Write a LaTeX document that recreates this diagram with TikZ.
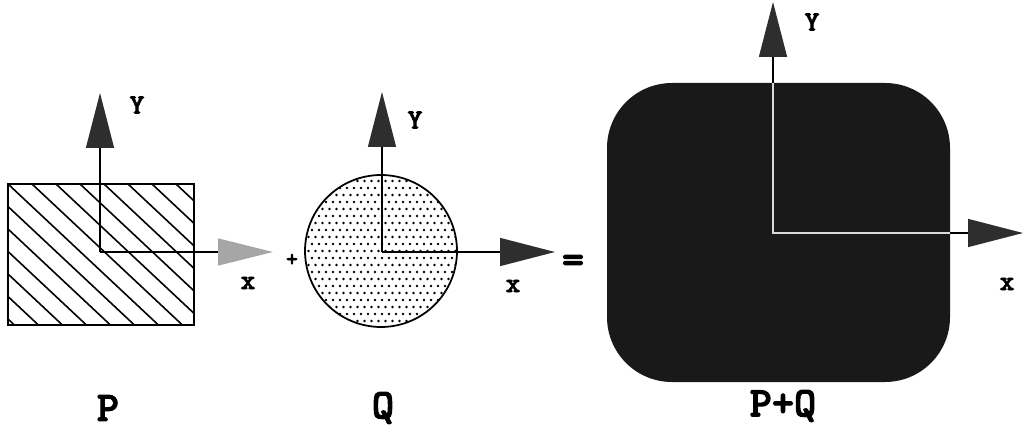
\documentclass[tikz,border=0pt]{standalone}
\usepackage{fontspec}
\newfontfamily\codefont{lmmonolt10-bold.otf}[FakeBold=2.5]
\usetikzlibrary{arrows.meta}
\begin{document}
\begin{tikzpicture}[x=0.02cm,y=-0.02cm,
  ax/.style={line width=0.8pt,-{Triangle[length=11mm,width=5.6mm,color=black!82]}},
  axlight/.style={line width=0.8pt,-{Triangle[length=11mm,width=5.4mm,color=black!35]}},
  lbl/.style={font=\codefont\fontsize{16}{16}\selectfont,inner sep=0pt},
  setname/.style={font=\codefont\fontsize{24}{24}\selectfont,inner sep=0pt}]
  \useasboundingbox (0,0) rectangle (1024,429);
  % P: hatched rectangle
  \coordinate (oP) at (100,252);
  \coordinate (yP) at (100,93);
  \coordinate (xP) at (273,252);
  \fill[white] (8,184) rectangle (194,325);
  \begin{scope}
    \clip (8,184) rectangle (194,325);
    \foreach \k in {-7,...,8}
      \draw[line width=0.9pt] (8+\k*24,184) -- ++(160,150);
  \end{scope}
  \draw[line width=1.1pt] (8,184) rectangle (194,325);
  \draw[ax] (oP) -- (yP);
  \draw[axlight] (oP) -- (xP);
  \node[lbl] (yPl) at (137,105) {Y};
  \node[lbl] (xPl) at (248,283) {x};
  \node[font=\codefont\fontsize{13}{13}\selectfont,inner sep=0pt] (plus) at (292,260) {+};
  \node[setname] (Pl) at (108,408) {P};
  % Q: dotted disc
  \coordinate (oQ) at (382,252);
  \coordinate (yQ) at (382,92);
  \coordinate (xQ) at (555,252);
  \fill[white] (381,251) circle[radius=1.52cm];
  \begin{scope}
    \clip (381,251) circle[radius=1.52cm];
    \foreach \i in {0,...,22}
      \foreach \j in {0,...,22}
        \fill ({305+\i*7+mod(\j,2)*3.5},{174+\j*7}) circle[radius=0.8pt];
  \end{scope}
  \draw[line width=1pt] (381,251) circle[radius=1.52cm];
  \draw[ax] (oQ) -- (yQ);
  \draw[ax] (oQ) -- (xQ);
  \node[lbl] (yQl) at (415,120) {Y};
  \node[lbl] (xQl) at (513,286) {x};
  \node[font=\codefont\fontsize{24}{24}\selectfont,inner sep=0pt] (eq) at (573,264) {=};
  \node[setname] (Ql) at (383,408) {Q};
  % P+Q: rounded black block
  \coordinate (oS) at (773,233);
  \coordinate (yS) at (773,2);
  \coordinate (xS) at (1023,233);
  \fill[black!90,rounded corners=1.3cm] (607,83) rectangle (950,382);
  \draw[ax] (oS) -- (yS);
  \draw[ax] (oS) -- (xS);
  \begin{scope}
    \clip[rounded corners=1.3cm] (607,83) rectangle (950,382);
    \draw[white!85!black,line width=0.8pt] (773,83) |- (950,233);
  \end{scope}
  \node[lbl] (ySl) at (812,22) {Y};
  \node[lbl] (xSl) at (1007,284) {x};
  \node[setname] (Sl) at (783,406) {P+Q};
\end{tikzpicture}
\end{document}
